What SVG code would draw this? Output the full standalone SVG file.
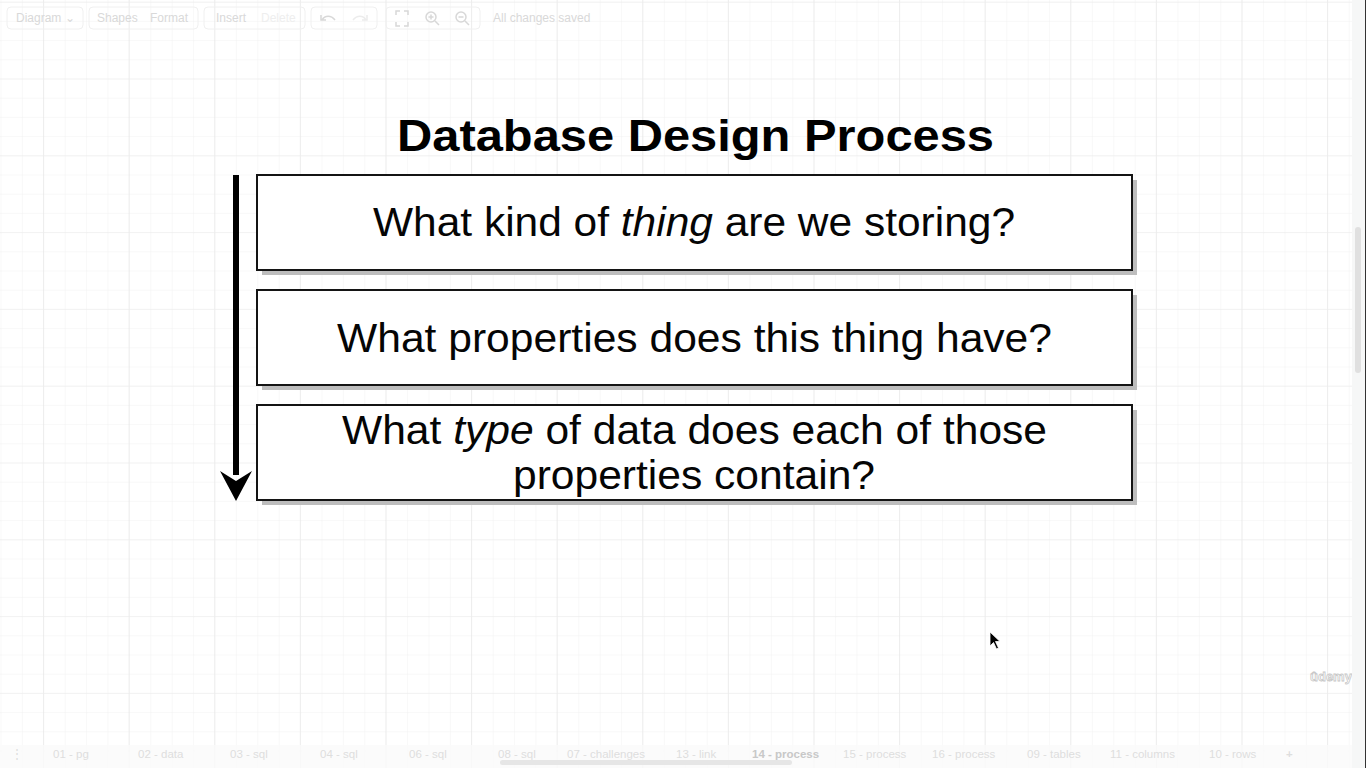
<svg xmlns="http://www.w3.org/2000/svg" width="1366" height="768" viewBox="0 0 1366 768">
<defs>
<style>
.ui{font-family:"Liberation Sans",Arial,sans-serif;font-size:12px;fill:#d9d9d9}
.tab{font-family:"Liberation Sans",Arial,sans-serif;font-size:11.5px;fill:#dedede}
.btn{fill:none;stroke:#f0f0f0;stroke-width:1}
.box{fill:#fff;stroke:#141414;stroke-width:2}
.shadow{fill:#bdbdbd}
.q{font-family:"Liberation Sans",Arial,sans-serif;font-size:40px;fill:#050505;text-anchor:middle}
.title{font-family:"Liberation Sans",Arial,sans-serif;font-size:45px;font-weight:bold;fill:#000;text-anchor:middle}
</style>
<pattern id="minor" x="0.5" y="1.7" width="21.4" height="19.2" patternUnits="userSpaceOnUse">
<path d="M0 0V19.2M0 0H21.4" stroke="#f1f1f1" stroke-width="1" fill="none"/>
</pattern>
<pattern id="major" x="43" y="1.7" width="85.6" height="76.8" patternUnits="userSpaceOnUse">
<path d="M0 0V76.8" stroke="#e2e2e2" stroke-width="1" fill="none"/>
<path d="M0 0H85.6" stroke="#ececec" stroke-width="1" fill="none"/>
</pattern>
</defs>
<rect width="1366" height="768" fill="#fff"/>
<rect width="1352" height="768" fill="url(#minor)"/>
<rect width="1352" height="768" fill="url(#major)"/>
<g id="toolbar">
<rect class="btn" x="7" y="7" width="76" height="22" rx="4"/>
<text class="ui" x="16" y="22">Diagram ⌄</text>
<rect class="btn" x="89" y="7" width="109" height="22" rx="4"/>
<text class="ui" x="97" y="22">Shapes</text>
<text class="ui" x="150" y="22">Format</text>
<rect class="btn" x="204" y="7" width="101" height="22" rx="4"/>
<text class="ui" x="216" y="22">Insert</text>
<text class="ui" x="261" y="22" style="fill:#eeeeee">Delete</text>
<rect class="btn" x="311" y="7" width="66" height="22" rx="4"/>
<path d="M322 20c3-5 9-5 13 0M321 15v5h5" stroke="#d8d8d8" stroke-width="1.5" fill="none"/>
<path d="M366 20c-3-5-9-5-13 0M367 15v5h-5" stroke="#ececec" stroke-width="1.5" fill="none"/>
<rect class="btn" x="386" y="7" width="94" height="22" rx="4"/>
<path d="M396 15v-4h4M404 11h4v4M408 22v4h-4M400 26h-4v-4" stroke="#d8d8d8" stroke-width="1.5" fill="none"/>
<circle cx="431" cy="17" r="5" stroke="#d8d8d8" stroke-width="1.5" fill="none"/>
<path d="M435 21l4 4M428.5 17h5M431 14.5v5" stroke="#d8d8d8" stroke-width="1.5"/>
<circle cx="461" cy="17" r="5" stroke="#d8d8d8" stroke-width="1.5" fill="none"/>
<path d="M465 21l4 4M458.5 17h5" stroke="#d8d8d8" stroke-width="1.5"/>
<text class="ui" x="493" y="22">All changes saved</text>
</g>
<g id="title">
<text class="title" x="695.5" y="151" textLength="597" lengthAdjust="spacingAndGlyphs">Database Design Process</text>
</g>
<g id="connectors">
<rect x="233" y="175" width="6" height="300"/>
<path d="M220 471L236 481L252 471L236 501Z" fill="#000"/>
</g>
<g id="node1">
<rect class="shadow" x="262" y="180" width="875" height="95"/>
<rect class="box" x="257" y="175" width="875" height="95"/>
<text class="q" x="694" y="236" textLength="642" lengthAdjust="spacingAndGlyphs">What kind of <tspan font-style="italic">thing</tspan> are we storing?</text>
</g>
<g id="node2">
<rect class="shadow" x="262" y="295" width="875" height="95"/>
<rect class="box" x="257" y="290" width="875" height="95"/>
<text class="q" x="694.5" y="352" textLength="715" lengthAdjust="spacingAndGlyphs">What properties does this thing have?</text>
</g>
<g id="node3">
<rect class="shadow" x="262" y="410" width="875" height="95"/>
<rect class="box" x="257" y="405" width="875" height="95"/>
<text class="q" x="694.5" y="444" textLength="705" lengthAdjust="spacingAndGlyphs">What <tspan font-style="italic">type</tspan> of data does each of those</text>
<text class="q" x="694" y="489" textLength="362" lengthAdjust="spacingAndGlyphs">properties contain?</text>
</g>
<path d="M990 632V646L993.5 642.5L996.5 649L998.5 648L995.5 641.5H1000Z" fill="#000" stroke="#fff" stroke-width="0.8"/>
<text x="1310" y="681" font-family="'Liberation Sans',Arial,sans-serif" font-size="13" font-weight="bold" fill="#fff" stroke="#c8c8c8" stroke-width="0.8">ûdemy</text>
<g id="rightbar">
<rect x="1352" y="0" width="14" height="768" fill="#f6f7f7"/>
<rect x="1355" y="227" width="6" height="146" rx="3" fill="#e0e0e0"/>
<line x1="1365.5" y1="0" x2="1365.5" y2="768" stroke="#333" stroke-width="1"/>
</g>
<g id="tabs">
<rect x="0" y="745" width="1352" height="23" fill="#fafafa" opacity="0.8"/>
<text class="tab" x="11" y="758">⋮</text>
<text class="tab" x="53" y="758">01 - pg</text>
<text class="tab" x="138" y="758">02 - data</text>
<text class="tab" x="230" y="758">03 - sql</text>
<text class="tab" x="320" y="758">04 - sql</text>
<text class="tab" x="409" y="758">06 - sql</text>
<text class="tab" x="498" y="758">08 - sql</text>
<text class="tab" x="567" y="758">07 - challenges</text>
<text class="tab" x="676" y="758">13 - link</text>
<text class="tab" x="752" y="758" font-weight="bold" style="fill:#c8c8c8">14 - process</text>
<text class="tab" x="843" y="758">15 - process</text>
<text class="tab" x="932" y="758">16 - process</text>
<text class="tab" x="1027" y="758">09 - tables</text>
<text class="tab" x="1110" y="758">11 - columns</text>
<text class="tab" x="1209" y="758">10 - rows</text>
<text class="tab" x="1286" y="758" font-size="16" font-weight="bold">+</text>
<rect x="500" y="760" width="292" height="5" rx="2.5" fill="#e6e6e6"/>
</g>
</svg>
